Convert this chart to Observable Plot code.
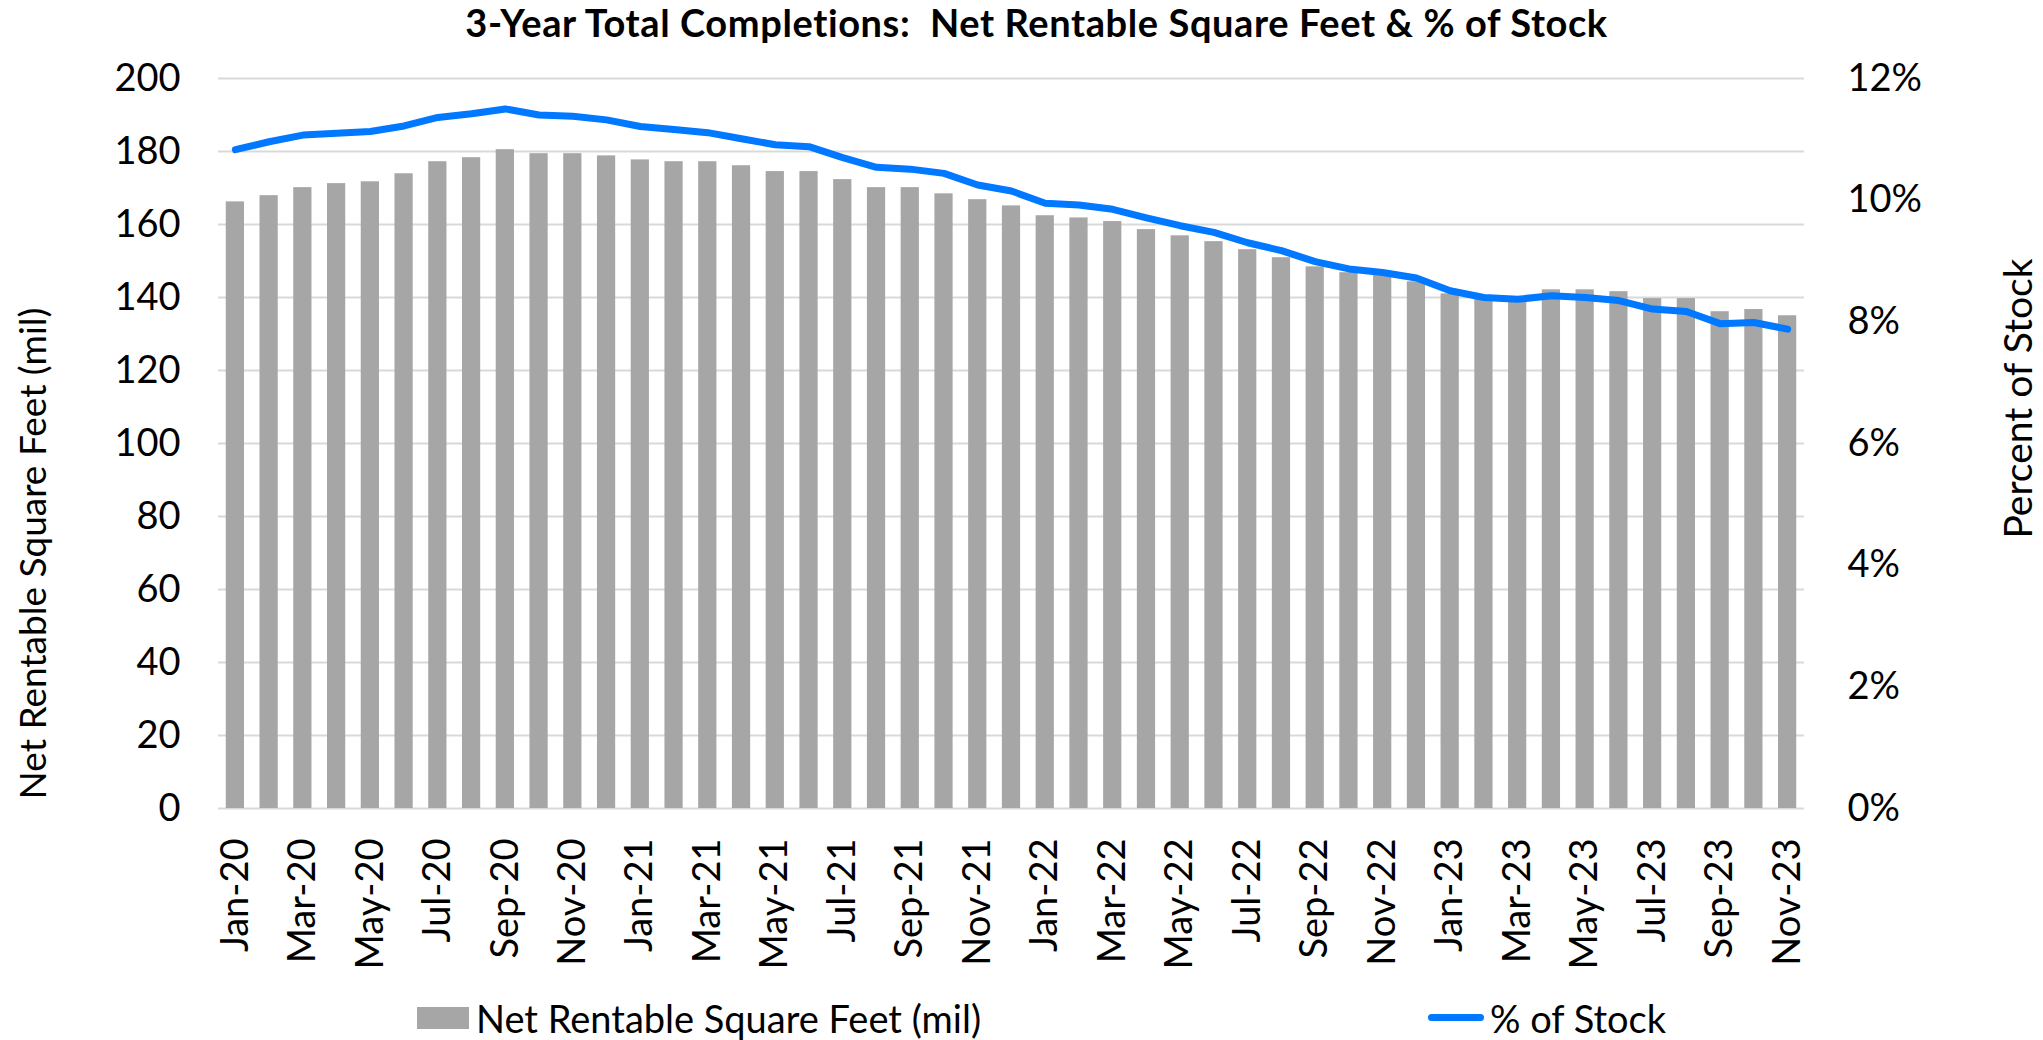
<!DOCTYPE html>
<html>
<head>
<meta charset="utf-8">
<script src="https://cdn.jsdelivr.net/npm/d3@7"></script>
<script src="https://cdn.jsdelivr.net/npm/@observablehq/plot@0.6"></script>
<style>
  html, body { margin: 0; padding: 0; background: #fff; }
  #wrap { width: 2043px; height: 1040px; position: relative; font-family: Lato, "Open Sans", sans-serif; color: #000; }
  #title { height: 52px; box-sizing: border-box; padding-left: 30px; text-align: center; font-weight: bold; font-size: 38px; letter-spacing: 0.6px; line-height: 40px; padding-top: 2px; white-space: nowrap; }
  #legend { position: relative; height: 70px; font-size: 38px; }
  #legend .sw-bar { position: absolute; left: 417px; top: 37px; width: 52px; height: 22px; background: #a6a6a6; }
  #legend .lab1 { position: absolute; left: 476px; top: 26px; line-height: 44px; }
  #legend .sw-line { position: absolute; left: 1428px; top: 44px; width: 56px; height: 7px; border-radius: 4px; background: #0078ff; }
  #legend .lab2 { position: absolute; left: 1490px; top: 26px; line-height: 44px; }
  svg { display: block; }
</style>
</head>
<body>
<div id="wrap">
  <div id="title"></div>
  <div id="chart"></div>
  <div id="legend"></div>
</div>
<script>
const titleText = "3-Year Total Completions:\u00A0 Net Rentable Square Feet & % of Stock";
const months = [
  "Jan-20","Feb-20","Mar-20","Apr-20","May-20","Jun-20","Jul-20","Aug-20","Sep-20","Oct-20","Nov-20","Dec-20",
  "Jan-21","Feb-21","Mar-21","Apr-21","May-21","Jun-21","Jul-21","Aug-21","Sep-21","Oct-21","Nov-21","Dec-21",
  "Jan-22","Feb-22","Mar-22","Apr-22","May-22","Jun-22","Jul-22","Aug-22","Sep-22","Oct-22","Nov-22","Dec-22",
  "Jan-23","Feb-23","Mar-23","Apr-23","May-23","Jun-23","Jul-23","Aug-23","Sep-23","Oct-23","Nov-23"
];
const sqftMil = [
  166.2,167.9,170.1,171.2,171.7,173.9,177.2,178.3,180.5,179.4,
  179.4,178.8,177.7,177.2,177.2,176.1,174.5,174.5,172.3,170.1,
  170.1,168.4,166.8,165.1,162.4,161.8,160.8,158.6,156.9,155.3,
  153.1,150.9,148.4,146.8,146.0,144.3,141.0,139.7,139.1,142.1,
  142.1,141.6,139.7,139.7,136.1,136.7,135.0
];
const pctOfStock = [
  10.83,10.96,11.07,11.10,11.13,11.22,11.36,11.42,11.50,11.40,
  11.38,11.32,11.21,11.16,11.11,11.01,10.91,10.88,10.70,10.54,
  10.51,10.44,10.25,10.15,9.95,9.92,9.85,9.71,9.58,9.47,
  9.30,9.17,8.99,8.87,8.81,8.72,8.51,8.40,8.37,8.43,
  8.40,8.35,8.21,8.17,7.97,7.99,7.88
];
const leftTicks = [0,20,40,60,80,100,120,140,160,180,200];
const pctTicks = [0,2,4,6,8,10,12];
const xTickLabels = ["Jan-20","Mar-20","May-20","Jul-20","Sep-20","Nov-20","Jan-21","Mar-21","May-21","Jul-21","Sep-21","Nov-21","Jan-22","Mar-22","May-22","Jul-22","Sep-22","Nov-22","Jan-23","Mar-23","May-23","Jul-23","Sep-23","Nov-23"];
const leftTitle = "Net Rentable Square Feet (mil)";
const rightTitle = "Percent of Stock";
const legendBar = "Net Rentable Square Feet (mil)";
const legendLine = "% of Stock";

const leftMax = 200, pctMax = 12;
const toLeft = p => p * leftMax / pctMax;
const table = months.map((m, i) => ({month: m, sqft: sqftMil[i], pct: pctOfStock[i]}));

document.getElementById("title").textContent = titleText;

const chart = Plot.plot({
  width: 2043,
  height: 918,
  marginTop: 26,
  marginBottom: 162,
  marginLeft: 218,
  marginRight: 239,
  style: {fontFamily: "Lato, 'Open Sans', sans-serif", fontSize: "38px", color: "#000", background: "#fff", overflow: "visible"},
  x: {type: "band", domain: months, paddingInner: 0.46, paddingOuter: 0.23},
  y: {domain: [0, leftMax]},
  marks: [
    Plot.gridY(leftTicks, {stroke: "#d9d9d9", strokeOpacity: 1, strokeWidth: 2}),
    Plot.barY(table, {x: "month", y: "sqft", fill: "#a6a6a6"}),
    Plot.line(table, {x: "month", y: d => toLeft(d.pct), stroke: "#0078ff", strokeWidth: 7, strokeLinejoin: "round", strokeLinecap: "round"}),
    Plot.axisY(leftTicks, {anchor: "left", tickSize: 0, tickPadding: 38, label: null, fill: "#000"}),
    Plot.axisY(pctTicks.map(toLeft), {anchor: "right", tickSize: 0, tickPadding: 43, label: null, fill: "#000",
      tickFormat: d => Math.round(d * pctMax / leftMax) + "%"}),
    Plot.axisX(xTickLabels, {tickRotate: -90, tickSize: 0, tickPadding: 30, label: null, fill: "#000"}),
    Plot.text([leftTitle], {frameAnchor: "top-left", dx: 19 - 218, dy: 475, rotate: -90, text: d => d, fill: "#000", fontSize: 37, textAnchor: "middle"}),
    Plot.text([rightTitle], {frameAnchor: "top-right", dx: 2004 - 1804, dy: 320, rotate: -90, text: d => d, fill: "#000", fontSize: 39, textAnchor: "middle"})
  ]
});
document.getElementById("chart").appendChild(chart);

const lg = document.getElementById("legend");
lg.innerHTML = '<div class="sw-bar"></div><div class="lab1"></div><div class="sw-line"></div><div class="lab2"></div>';
lg.querySelector(".lab1").textContent = legendBar;
lg.querySelector(".lab2").textContent = legendLine;
</script>
</body>
</html>
